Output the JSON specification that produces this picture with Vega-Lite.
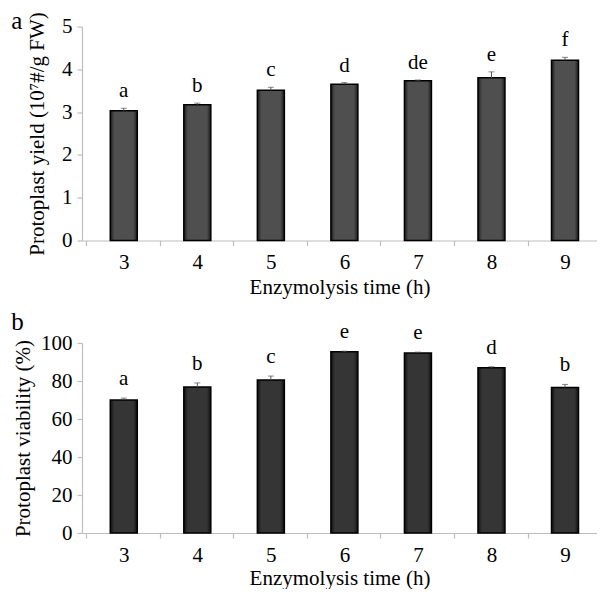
{
  "$schema": "https://vega.github.io/schema/vega-lite/v6.json",
  "background": "white",
  "padding": {"left": 11, "top": 8.5, "right": 0, "bottom": 0},
  "config": {
    "view": {"stroke": null},
    "font": "Liberation Serif",
    "concat": {"spacing": 12.5},
    "style": {
      "guide-label": {"font": "Liberation Serif", "fontSize": 21, "fill": "black"},
      "guide-title": {"font": "Liberation Serif", "fontSize": 21, "fontWeight": "normal", "fill": "black"}
    },
    "axis": {
      "domainColor": "#bdbdbd",
      "tickColor": "#bdbdbd",
      "domainWidth": 1.2,
      "tickWidth": 1.2,
      "grid": false,
      "tickSize": 5
    }
  },
  "datasets": {
    "yield": [
      {"t": 3, "m": 3.03, "hi": 3.09, "lab": "a"},
      {"t": 4, "m": 3.17, "hi": 3.21, "lab": "b"},
      {"t": 5, "m": 3.51, "hi": 3.58, "lab": "c"},
      {"t": 6, "m": 3.65, "hi": 3.69, "lab": "d"},
      {"t": 7, "m": 3.73, "hi": 3.75, "lab": "de"},
      {"t": 8, "m": 3.80, "hi": 3.94, "lab": "e"},
      {"t": 9, "m": 4.21, "hi": 4.28, "lab": "f"}
    ],
    "viab": [
      {"t": 3, "m": 70.0, "hi": 71.0, "lab": "a"},
      {"t": 4, "m": 76.8, "hi": 79.0, "lab": "b"},
      {"t": 5, "m": 80.5, "hi": 82.6, "lab": "c"},
      {"t": 6, "m": 95.4, "hi": 95.7, "lab": "e"},
      {"t": 7, "m": 94.7, "hi": 95.2, "lab": "e"},
      {"t": 8, "m": 87.0, "hi": 87.5, "lab": "d"},
      {"t": 9, "m": 76.6, "hi": 78.2, "lab": "b"}
    ],
    "pa": [{"p": "a"}],
    "pb": [{"p": "b"}]
  },
  "vconcat": [
    {
      "width": 515,
      "height": 214,
      "layer": [
        {
          "data": {"name": "yield"},
          "mark": {
            "type": "bar",
            "size": 27,
            "stroke": "black",
            "strokeWidth": 1.5,
            "fill": {
              "gradient": "linear",
              "x1": 0, "x2": 1, "y1": 0, "y2": 0,
              "stops": [
                {"offset": 0, "color": "#1c1c1c"},
                {"offset": 0.15, "color": "#4f4f4f"},
                {"offset": 0.85, "color": "#4f4f4f"},
                {"offset": 1, "color": "#1c1c1c"}
              ]
            }
          },
          "encoding": {
            "x": {
              "field": "t",
              "type": "quantitative",
              "scale": {"domain": [2.5, 9.367], "nice": false, "zero": false},
              "axis": {
                "values": [3, 4, 5, 6, 7, 8, 9],
                "tickCount": 10,
                "format": "d",
                "tickOffset": -37.5,
                "labelOffset": 37.5,
                "labelPadding": 6,
                "labelFlush": false,
                "labelOverlap": false,
                "labelFont": "Liberation Serif",
                "labelFontSize": 21,
                "labelColor": "black",
                "titleFont": "Liberation Serif",
                "titleFontSize": 21,
                "titleFontWeight": "normal",
                "titleColor": "black",
                "title": "Enzymolysis time (h)",
                "titlePadding": 4
              }
            },
            "y": {
              "field": "m",
              "type": "quantitative",
              "scale": {"domain": [0, 5], "nice": false},
              "axis": {
                "values": [0, 1, 2, 3, 4, 5],
                "tickCount": 10,
                "format": "d",
                "labelPadding": 5,
                "labelOverlap": false,
                "labelFont": "Liberation Serif",
                "labelFontSize": 21,
                "labelColor": "black",
                "titleFont": "Liberation Serif",
                "titleFontSize": 21,
                "titleFontWeight": "normal",
                "titleColor": "black",
                "title": "Protoplast yield (10⁷#/g FW)",
                "titlePadding": 14
              }
            }
          }
        },
        {
          "data": {"name": "yield"},
          "mark": {"type": "rule", "color": "#555555", "strokeWidth": 1},
          "encoding": {
            "x": {"field": "t", "type": "quantitative"},
            "y": {"field": "m", "type": "quantitative"},
            "y2": {"field": "hi"}
          }
        },
        {
          "data": {"name": "yield"},
          "mark": {"type": "tick", "orient": "horizontal", "size": 6, "thickness": 1, "color": "#555555"},
          "encoding": {
            "x": {"field": "t", "type": "quantitative"},
            "y": {"field": "hi", "type": "quantitative"}
          }
        },
        {
          "data": {"name": "yield"},
          "mark": {"type": "text", "baseline": "alphabetic", "dy": -11, "fontSize": 21, "font": "Liberation Serif", "color": "black"},
          "encoding": {
            "x": {"field": "t", "type": "quantitative"},
            "y": {"field": "hi", "type": "quantitative"},
            "text": {"field": "lab"}
          }
        },
        {
          "data": {"name": "pa"},
          "mark": {"type": "text", "align": "left", "baseline": "alphabetic", "fontSize": 25, "font": "Liberation Serif", "color": "black"},
          "encoding": {
            "x": {"datum": 1.47},
            "y": {"datum": 4.93},
            "text": {"field": "p", "type": "nominal"}
          }
        }
      ]
    },
    {
      "width": 515,
      "height": 190,
      "layer": [
        {
          "data": {"name": "viab"},
          "mark": {
            "type": "bar",
            "size": 27,
            "stroke": "black",
            "strokeWidth": 1.5,
            "fill": {
              "gradient": "linear",
              "x1": 0, "x2": 1, "y1": 0, "y2": 0,
              "stops": [
                {"offset": 0, "color": "#111111"},
                {"offset": 0.15, "color": "#353535"},
                {"offset": 0.85, "color": "#353535"},
                {"offset": 1, "color": "#111111"}
              ]
            }
          },
          "encoding": {
            "x": {
              "field": "t",
              "type": "quantitative",
              "scale": {"domain": [2.5, 9.367], "nice": false, "zero": false},
              "axis": {
                "values": [3, 4, 5, 6, 7, 8, 9],
                "tickCount": 10,
                "format": "d",
                "tickOffset": -37.5,
                "labelOffset": 37.5,
                "labelPadding": 6,
                "labelFlush": false,
                "labelOverlap": false,
                "labelFont": "Liberation Serif",
                "labelFontSize": 21,
                "labelColor": "black",
                "titleFont": "Liberation Serif",
                "titleFontSize": 21,
                "titleFontWeight": "normal",
                "titleColor": "black",
                "title": "Enzymolysis time (h)",
                "titlePadding": 2
              }
            },
            "y": {
              "field": "m",
              "type": "quantitative",
              "scale": {"domain": [0, 100], "nice": false},
              "axis": {
                "values": [0, 20, 40, 60, 80, 100],
                "tickCount": 10,
                "format": "d",
                "labelPadding": 5,
                "labelOverlap": false,
                "labelFont": "Liberation Serif",
                "labelFontSize": 21,
                "labelColor": "black",
                "titleFont": "Liberation Serif",
                "titleFontSize": 21,
                "titleFontWeight": "normal",
                "titleColor": "black",
                "title": "Protoplast viability (%)",
                "titlePadding": 7
              }
            }
          }
        },
        {
          "data": {"name": "viab"},
          "mark": {"type": "rule", "color": "#555555", "strokeWidth": 1},
          "encoding": {
            "x": {"field": "t", "type": "quantitative"},
            "y": {"field": "m", "type": "quantitative"},
            "y2": {"field": "hi"}
          }
        },
        {
          "data": {"name": "viab"},
          "mark": {"type": "tick", "orient": "horizontal", "size": 6, "thickness": 1, "color": "#555555"},
          "encoding": {
            "x": {"field": "t", "type": "quantitative"},
            "y": {"field": "hi", "type": "quantitative"}
          }
        },
        {
          "data": {"name": "viab"},
          "mark": {"type": "text", "baseline": "alphabetic", "dy": -13, "fontSize": 21, "font": "Liberation Serif", "color": "black"},
          "encoding": {
            "x": {"field": "t", "type": "quantitative"},
            "y": {"field": "hi", "type": "quantitative"},
            "text": {"field": "lab"}
          }
        },
        {
          "data": {"name": "pb"},
          "mark": {"type": "text", "align": "left", "baseline": "alphabetic", "fontSize": 25, "font": "Liberation Serif", "color": "black"},
          "encoding": {
            "x": {"datum": 1.47},
            "y": {"datum": 106.6},
            "text": {"field": "p", "type": "nominal"}
          }
        }
      ]
    }
  ]
}
